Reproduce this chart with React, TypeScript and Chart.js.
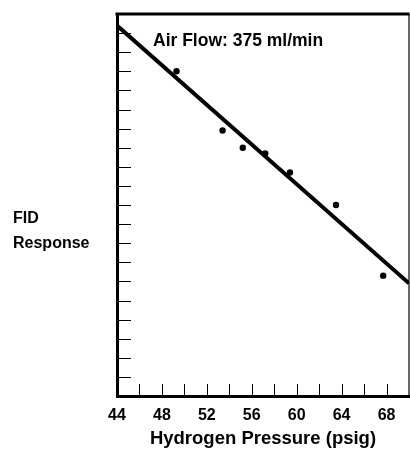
import { useEffect, useRef } from 'react';
import { Chart, registerables } from 'chart.js';

Chart.register(...registerables);

// ---- data ----
const xTickLabels = ['44', '48', '52', '56', '60', '64', '68'];
const pressure = [49.3, 53.4, 55.2, 57.2, 59.4, 63.5, 67.7];
const response = [17.0, 13.9, 13.0, 12.7, 11.7, 10.0, 6.3];
const fitX = [44, 70];
const fitY = [19.4, 5.9];
const xRange = [44, 70];
const yRange = [0, 20];
const chartTitle = 'Air Flow: 375 ml/min';
const yTitle = ['FID', 'Response'];
const xTitle = 'Hydrogen Pressure (psig)';

const FONT = '"Liberation Sans", Arial, Helvetica, sans-serif';

const decorPlugin = {
  id: 'decor',
  afterDraw(chart: any) {
    const { ctx, chartArea: a, scales } = chart;
    const x = scales.x;
    const y = scales.y;
    ctx.save();
    ctx.strokeStyle = '#000';
    // top frame line
    ctx.lineWidth = 3;
    ctx.beginPath();
    ctx.moveTo(a.left - 1.5, a.top);
    ctx.lineTo(a.right + 0.5, a.top);
    ctx.stroke();
    // right frame line (thin)
    ctx.lineWidth = 1.2;
    ctx.beginPath();
    ctx.moveTo(a.right, a.top);
    ctx.lineTo(a.right, a.bottom);
    ctx.stroke();
    // inward ticks
    ctx.lineWidth = 1;
    ctx.beginPath();
    y.ticks.forEach((t: any) => {
      if (t.value <= y.min || t.value >= y.max) return;
      const py = Math.round(y.getPixelForValue(t.value)) + 0.5;
      ctx.moveTo(a.left, py);
      ctx.lineTo(a.left + 14, py);
    });
    x.ticks.forEach((t: any) => {
      if (t.value <= x.min || t.value >= x.max) return;
      const px = Math.round(x.getPixelForValue(t.value)) + 0.5;
      ctx.moveTo(px, a.bottom);
      ctx.lineTo(px, a.bottom - 12);
    });
    ctx.stroke();
    // texts
    ctx.fillStyle = '#000';
    ctx.textBaseline = 'middle';
    ctx.textAlign = 'left';
    ctx.font = `bold 17.5px ${FONT}`;
    ctx.fillText(chartTitle, a.left + 36, a.top + 27);
    ctx.font = `bold 16px ${FONT}`;
    ctx.fillText(yTitle[0], 13, 219);
    ctx.fillText(yTitle[1], 13, 244);
    ctx.restore();
  },
};

export default function App() {
  const ref = useRef<HTMLCanvasElement | null>(null);
  useEffect(() => {
    document.body.style.margin = '0';
    const canvas = ref.current;
    if (!canvas) return;
    const chart = new Chart(canvas, {
      type: 'scatter',
      data: {
        datasets: [
          {
            type: 'line',
            data: fitX.map((v, i) => ({ x: v, y: fitY[i] })),
            borderColor: '#000',
            borderWidth: 4,
            pointRadius: 0,
            fill: false,
          } as any,
          {
            data: pressure.map((v, i) => ({ x: v, y: response[i] })),
            backgroundColor: '#000',
            borderWidth: 0,
            pointRadius: 3.2,
          },
        ],
      },
      options: {
        responsive: false,
        animation: false,
        devicePixelRatio: 1,
        layout: { autoPadding: false, padding: { top: 14, right: 1, left: 0, bottom: 0 } },
        plugins: { legend: { display: false }, tooltip: { enabled: false } },
        scales: {
          x: {
            type: 'linear',
            min: xRange[0],
            max: xRange[1],
            grid: { display: false, drawTicks: false },
            border: { display: true, width: 3, color: '#000' },
            ticks: {
              stepSize: 2,
              autoSkip: false,
              maxRotation: 0,
              padding: 10,
              color: '#000',
              font: { family: FONT, size: 16, weight: 'bold' },
              callback: (v: any) => (xTickLabels.includes(String(v)) ? String(v) : ''),
            },
            title: {
              display: true,
              text: xTitle,
              color: '#000',
              font: { family: FONT, size: 18.5, weight: 'bold' },
              padding: { top: 0, bottom: -1 },
            },
            afterFit: (s: any) => {
              s.height = 53;
              s.paddingLeft = 0;
              s.paddingRight = 0;
            },
          },
          y: {
            type: 'linear',
            min: yRange[0],
            max: yRange[1],
            grid: { display: false, drawTicks: false },
            border: { display: true, width: 3, color: '#000' },
            ticks: { stepSize: 1, display: false },
            afterFit: (s: any) => {
              s.width = 117;
            },
          },
        },
      },
      plugins: [decorPlugin],
    });
    return () => chart.destroy();
  }, []);
  return (
    <div style={{ position: 'absolute', left: 0, top: 0, width: 410, height: 449 }}>
      <canvas ref={ref} width={410} height={449} />
    </div>
  );
}
